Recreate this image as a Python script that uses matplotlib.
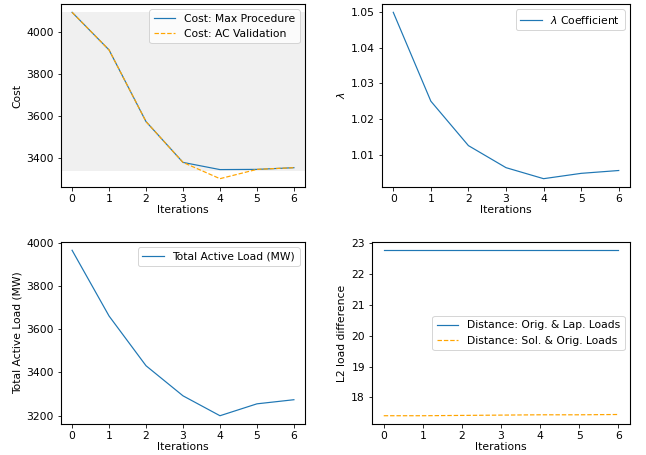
"""Max procedure iterations: cost, lambda, load and L2 distances"""

import matplotlib
matplotlib.use("Agg")
import matplotlib.pyplot as plt

# data
iterations = [0, 1, 2, 3, 4, 5, 6]
cost_max_procedure = [4091, 3913, 3574, 3381, 3347, 3348, 3356]
cost_ac_validation = [4091, 3913, 3574, 3381, 3304, 3348, 3356]
lambda_coef = [1.0500, 1.0250, 1.0125, 1.0063, 1.0032, 1.0047, 1.0055]
total_active_load = [3965, 3661, 3431, 3292, 3200, 3255, 3274]
dist_orig_lap = [22.755, 22.755, 22.755, 22.755, 22.755, 22.755, 22.755]
dist_sol_orig = [17.41, 17.41, 17.42, 17.43, 17.44, 17.44, 17.45]


def main():
    plt.rcParams['font.size'] = 10.8
    plt.rcParams['axes.linewidth'] = 1.1

    fig = plt.figure(figsize=(646 / 72, 455 / 72), dpi=72)
    W, H = 646, 455

    def add_ax(l, t, r, b):
        return fig.add_axes([l / W, 1 - b / H, (r - l) / W, (b - t) / H])

    ax1 = add_ax(61, 4, 305, 187)
    ax2 = add_ax(382, 4, 630, 187)
    ax3 = add_ax(61, 242, 305, 424)
    ax4 = add_ax(372, 242, 630, 424)

    lw = 1.2

    # cost
    ax1.axhspan(min(cost_max_procedure), max(cost_max_procedure),
                color='#f0f0f0', zorder=0)
    ax1.plot(iterations, cost_max_procedure, color='#1f77b4', lw=lw,
             label='Cost: Max Procedure')
    ax1.plot(iterations, cost_ac_validation, color='#ffa500', lw=lw,
             ls='--', label='Cost: AC Validation')
    ax1.set_yticks([3400, 3600, 3800, 4000])
    ax1.set_ylabel('Cost')
    ax1.set_xlabel('Iterations', labelpad=1)
    ax1.legend(loc='upper right')

    # lambda
    ax2.plot(iterations, lambda_coef, color='#1f77b4', lw=lw,
             label=r'$\lambda$ Coefficient')
    ax2.set_ylabel(r'$\lambda$')
    ax2.set_xlabel('Iterations', labelpad=1)
    ax2.legend(loc='upper right')

    # total load
    ax3.plot(iterations, total_active_load, color='#1f77b4', lw=lw,
             label='Total Active Load (MW)')
    ax3.set_yticks([3200, 3400, 3600, 3800, 4000])
    ax3.set_ylabel('Total Active Load (MW)')
    ax3.set_xlabel('Iterations', labelpad=1)
    ax3.legend(loc='upper right')

    # L2 distances
    ax4.plot(iterations, dist_orig_lap, color='#1f77b4', lw=lw,
             label='Distance: Orig. & Lap. Loads')
    ax4.plot(iterations, dist_sol_orig, color='#ffa500', lw=lw, ls='--',
             label='Distance: Sol. & Orig. Loads')
    ax4.set_yticks([18, 19, 20, 21, 22, 23])
    ax4.set_ylabel('L2 load difference')
    ax4.set_xlabel('Iterations', labelpad=1)
    ax4.legend(loc='center right')

    for ax in (ax1, ax2, ax3, ax4):
        ax.set_xticks(iterations)

    fig.savefig('out.png', dpi=72)


if __name__ == "__main__":
    main()
